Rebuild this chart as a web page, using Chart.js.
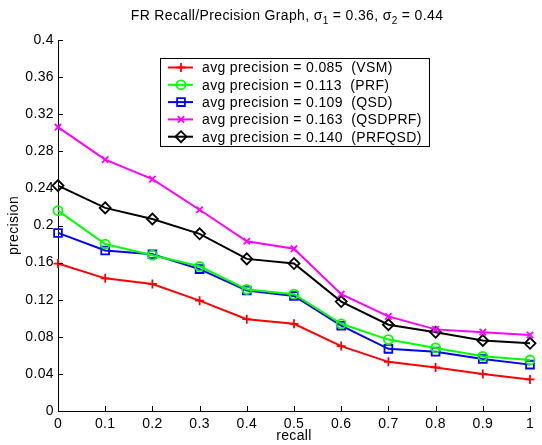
<!DOCTYPE html>
<html>
<head>
<meta charset="utf-8">
<script src="https://cdn.jsdelivr.net/npm/chart.js@4/dist/chart.umd.min.js"></script>
<style>
html,body{margin:0;padding:0;background:#fff;}
#wrap{width:542px;height:445px;position:relative;}
</style>
</head>
<body>
<div id="wrap"><canvas id="c" width="542" height="445"></canvas></div>
<script>
const recall = [0, 0.1, 0.2, 0.3, 0.4, 0.5, 0.6, 0.7, 0.8, 0.9, 1];
const vsm    = [0.159, 0.143, 0.137, 0.119, 0.099, 0.094, 0.070, 0.053, 0.047, 0.040, 0.034];
const prf    = [0.216, 0.180, 0.168, 0.156, 0.131, 0.126, 0.094, 0.077, 0.068, 0.059, 0.055];
const qsd    = [0.192, 0.173, 0.169, 0.153, 0.130, 0.124, 0.092, 0.067, 0.064, 0.056, 0.050];
const qsdprf = [0.306, 0.271, 0.250, 0.217, 0.183, 0.175, 0.126, 0.102, 0.088, 0.085, 0.082];
const prfqsd = [0.243, 0.219, 0.207, 0.191, 0.164, 0.159, 0.118, 0.093, 0.085, 0.076, 0.073];
const seriesLabels = [
  'avg precision = 0.085  (VSM)',
  'avg precision = 0.113  (PRF)',
  'avg precision = 0.109  (QSD)',
  'avg precision = 0.163  (QSDPRF)',
  'avg precision = 0.140  (PRFQSD)'
];
const xTickLabels = ['0','0.1','0.2','0.3','0.4','0.5','0.6','0.7','0.8','0.9','1'];
const yTickLabels = ['0','0.04','0.08','0.12','0.16','0.2','0.24','0.28','0.32','0.36','0.4'];
const xLabel = 'recall';
const yLabel = 'precision';

const FONT = '"Liberation Sans", Arial, Helvetica, sans-serif';
const styles = [
  {color:'#ff0000', pointStyle:'cross',   radius:4.5},
  {color:'#00ff00', pointStyle:'circle',  radius:4.5},
  {color:'#0000ff', pointStyle:'rect',    radius:5.5},
  {color:'#ff00ff', pointStyle:'crossRot',radius:4.5},
  {color:'#000000', pointStyle:'rectRot', radius:5.5}
];
const allSeries = [vsm, prf, qsd, qsdprf, prfqsd];

const datasets = allSeries.map((s, i) => ({
  label: seriesLabels[i],
  data: s.map((v, j) => ({x: recall[j], y: v})),
  borderColor: styles[i].color,
  backgroundColor: 'rgba(0,0,0,0)',
  pointBorderColor: styles[i].color,
  pointBackgroundColor: 'rgba(0,0,0,0)',
  pointStyle: styles[i].pointStyle,
  pointRadius: styles[i].radius,
  pointBorderWidth: 1.8,
  borderWidth: 2,
  tension: 0,
  clip: false
}));

const decor = {
  id: 'decor',
  beforeDraw(chart) {
    try { chart.ctx.letterSpacing = '0.35px'; } catch (e) {}
  },
  afterDatasetsDraw(chart) {
    const ctx = chart.ctx;
    const xs = chart.scales.x, ys = chart.scales.y;
    const ca = chart.chartArea;
    ctx.save();
    // inward ticks
    ctx.strokeStyle = '#000';
    ctx.lineWidth = 1;
    ctx.beginPath();
    xs.ticks.forEach((t, i) => {
      const px = Math.round(xs.getPixelForTick(i)) + 0.5;
      ctx.moveTo(px, ca.bottom);
      ctx.lineTo(px, ca.bottom - 5);
    });
    ys.ticks.forEach((t, i) => {
      const py = Math.round(ys.getPixelForTick(i)) + 0.5;
      ctx.moveTo(ca.left, py);
      ctx.lineTo(ca.left + 5, py);
    });
    ctx.stroke();

    // legend
    const L = 160, T = 58, W = 269, H = 88;
    ctx.fillStyle = '#fff';
    ctx.fillRect(L, T, W, H);
    ctx.font = '14px ' + FONT;
    ctx.textBaseline = 'middle';
    ctx.textAlign = 'left';
    chart.data.datasets.forEach((ds, i) => {
      const y = T + 9.5 + i * 17.3;
      ctx.strokeStyle = ds.borderColor;
      ctx.lineWidth = 2;
      ctx.beginPath();
      ctx.moveTo(L + 8, y);
      ctx.lineTo(L + 33, y);
      ctx.stroke();
      ctx.lineWidth = 1.8;
      ctx.fillStyle = 'rgba(0,0,0,0)';
      Chart.helpers.drawPoint(ctx, {pointStyle: ds.pointStyle, radius: ds.pointRadius, rotation: 0, borderWidth: 1.8}, L + 21, y);
      ctx.fillStyle = '#000';
      ctx.fillText(ds.label, L + 42, y + 1);
    });
    ctx.strokeStyle = '#000';
    ctx.lineWidth = 1;
    ctx.strokeRect(L + 0.5, T + 0.5, W, H);

    // title with subscripts
    const parts = [
      ['FR Recall/Precision Graph, \u03c3', false],
      ['1', true],
      [' = 0.36, \u03c3', false],
      ['2', true],
      [' = 0.44', false]
    ];
    const big = '14px ' + FONT, small = '10px ' + FONT;
    let tw = 0;
    parts.forEach(p => { ctx.font = p[1] ? small : big; tw += ctx.measureText(p[0]).width; });
    let x = 287 - tw / 2;
    const ty = 16;
    ctx.fillStyle = '#000';
    ctx.textBaseline = 'middle';
    parts.forEach(p => {
      ctx.font = p[1] ? small : big;
      ctx.fillText(p[0], x, p[1] ? ty + 5 : ty);
      x += ctx.measureText(p[0]).width;
    });
    ctx.restore();
  }
};

new Chart(document.getElementById('c'), {
  type: 'line',
  data: { datasets },
  options: {
    responsive: false,
    animation: false,
    layout: { padding: { left: 0, right: 12, top: 40, bottom: 0 } },
    plugins: { legend: { display: false }, title: { display: false }, tooltip: { enabled: false } },
    scales: {
      x: {
        type: 'linear', min: 0, max: 1,
        afterFit(s) { s.height = 34; },
        grid: { display: true, drawOnChartArea: false, drawTicks: false },
        border: { display: true, color: '#000', width: 1 },
        ticks: { stepSize: 0.1, padding: 5, color: '#000', font: { family: FONT, size: 14 },
          maxRotation: 0, autoSkip: false,
          callback: (v, i) => xTickLabels[i] },
        title: { display: true, text: xLabel, color: '#000', font: { family: FONT, size: 14 }, padding: { top: 0, bottom: 0 } }
      },
      y: {
        type: 'linear', min: 0, max: 0.4,
        afterFit(s) { s.width = 58; },
        grid: { display: true, drawOnChartArea: false, drawTicks: false },
        border: { display: true, color: '#000', width: 1 },
        ticks: { stepSize: 0.04, padding: 4, color: '#000', font: { family: FONT, size: 14 },
          autoSkip: false, callback: (v, i) => yTickLabels[i] },
        title: { display: true, text: yLabel, color: '#000', font: { family: FONT, size: 14 }, padding: { top: 6, bottom: 0 } }
      }
    }
  },
  plugins: [decor]
});
</script>
</body>
</html>
